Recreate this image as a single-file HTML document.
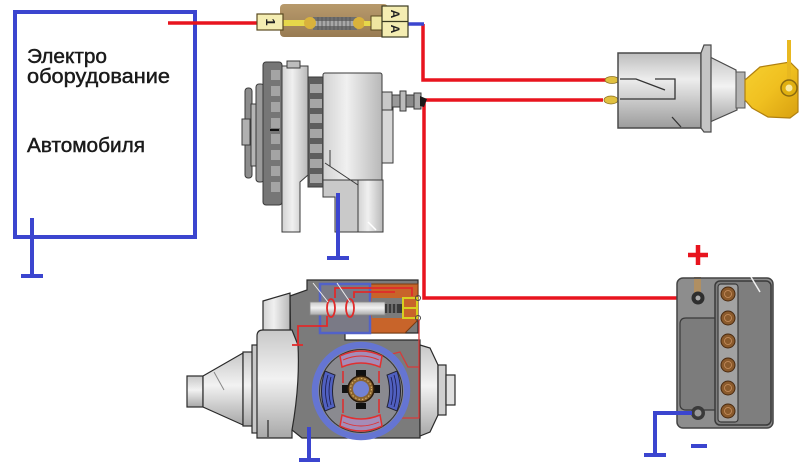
<!DOCTYPE html>
<html><head><meta charset="utf-8"><style>
html,body{margin:0;padding:0;background:#fff;}
svg{display:block;}
</style></head><body>
<svg width="800" height="473" viewBox="0 0 800 473" xmlns="http://www.w3.org/2000/svg">
<defs>
<linearGradient id="hg" x1="0" y1="0" x2="1" y2="0">
<stop offset="0" stop-color="#d2d2d2"/><stop offset="0.4" stop-color="#f0f0f0"/><stop offset="1" stop-color="#b8b8b8"/></linearGradient>
<linearGradient id="vg" x1="0" y1="0" x2="0" y2="1">
<stop offset="0" stop-color="#bdbdbd"/><stop offset="0.35" stop-color="#ededed"/><stop offset="1" stop-color="#9c9c9c"/></linearGradient>
<linearGradient id="vg2" x1="0" y1="0" x2="0" y2="1">
<stop offset="0" stop-color="#c8c8c8"/><stop offset="0.45" stop-color="#f2f2f2"/><stop offset="1" stop-color="#a8a8a8"/></linearGradient>
<linearGradient id="fuseg" x1="0" y1="0" x2="0" y2="1">
<stop offset="0" stop-color="#b89a6c"/><stop offset="0.5" stop-color="#a88b60"/><stop offset="1" stop-color="#987b52"/></linearGradient>
<linearGradient id="keyg" x1="0" y1="0" x2="1" y2="1">
<stop offset="0" stop-color="#f6d030"/><stop offset="0.5" stop-color="#f0c020"/><stop offset="1" stop-color="#d8a010"/></linearGradient>
</defs>

<!-- Equipment box -->
<rect x="15" y="12" width="180" height="225" fill="none" stroke="#3b45cf" stroke-width="4"/>
<line x1="32" y1="218" x2="32" y2="276" stroke="#3b45cf" stroke-width="4"/>
<line x1="21" y1="276" x2="43" y2="276" stroke="#3b45cf" stroke-width="4"/>
<g font-family="'Liberation Sans','DejaVu Sans',sans-serif" font-size="20" fill="#1a1a1a" stroke="#1a1a1a" stroke-width="0.45">
<text x="27" y="63" textLength="80" lengthAdjust="spacingAndGlyphs">Электро</text>
<text x="27" y="83" textLength="143" lengthAdjust="spacingAndGlyphs">оборудование</text>
<text x="27" y="152" textLength="118" lengthAdjust="spacingAndGlyphs">Автомобиля</text>
</g>

<!-- wires -->
<g fill="none" stroke="#e8141e" stroke-width="3.5">
<path d="M168 23 L258 23"/>
<path d="M423 24 L423 80 L606 80"/>
<path d="M424 100 L603 100"/>
<path d="M424 100 L424 298 L693 298"/>
</g>
<line x1="408" y1="24" x2="424" y2="24" stroke="#3b45cf" stroke-width="3.5"/>

<!-- Fuse -->
<rect x="280" y="4" width="108" height="33" rx="4" fill="url(#fuseg)"/>
<rect x="283" y="20" width="24" height="6" fill="#e6d84a"/>
<rect x="313" y="17" width="44" height="13" fill="#6f6f6f"/>
<rect x="315" y="21" width="40" height="5" fill="#a8a8a8"/>
<g stroke="#555" stroke-width="0.8">
<line x1="318" y1="17" x2="318" y2="30"/><line x1="322" y1="17" x2="322" y2="30"/><line x1="326" y1="17" x2="326" y2="30"/><line x1="330" y1="17" x2="330" y2="30"/><line x1="334" y1="17" x2="334" y2="30"/><line x1="338" y1="17" x2="338" y2="30"/><line x1="342" y1="17" x2="342" y2="30"/><line x1="346" y1="17" x2="346" y2="30"/><line x1="350" y1="17" x2="350" y2="30"/>
</g>
<ellipse cx="310" cy="23" rx="6" ry="6" fill="#d9b23c"/>
<ellipse cx="359" cy="23" rx="6" ry="6" fill="#d9b23c"/>
<rect x="364" y="21" width="8" height="5" fill="#e6d84a"/>
<rect x="371" y="16" width="12" height="14" fill="#efe6a0" stroke="#5a4a20" stroke-width="1"/>
<rect x="257" y="14" width="26" height="16" fill="#f4edb2" stroke="#5a4a20" stroke-width="1.2"/>
<text x="270" y="22" font-family="'Liberation Sans',sans-serif" font-size="13" font-weight="bold" fill="#222" text-anchor="middle" transform="rotate(90 270 22)" dy="4">1</text>
<rect x="382" y="6" width="26" height="31" fill="#f4edb2" stroke="#3a3a20" stroke-width="1.2"/>
<line x1="382" y1="21.5" x2="408" y2="21.5" stroke="#3a3a20" stroke-width="1.2"/>
<text x="395" y="14" font-family="'Liberation Sans',sans-serif" font-size="12" font-weight="bold" fill="#222" text-anchor="middle" transform="rotate(90 395 14)" dy="4">A</text>
<text x="395" y="29" font-family="'Liberation Sans',sans-serif" font-size="12" font-weight="bold" fill="#222" text-anchor="middle" transform="rotate(90 395 29)" dy="4">A</text>

<!-- Alternator -->
<g stroke="#3a3a3a" stroke-width="1">
<rect x="245" y="88" width="7" height="90" rx="3" fill="#8c8c8c"/>
<rect x="251" y="104" width="6" height="62" fill="#b5b5b5"/>
<rect x="256" y="84" width="8" height="98" rx="3" fill="#9a9a9a"/>
<rect x="242" y="119" width="8" height="26" fill="#b0b0b0"/>
<rect x="263" y="62" width="19" height="143" rx="3" fill="#767676"/>
<g fill="#a4a4a4" stroke="none">
<rect x="271" y="70" width="9" height="10"/><rect x="271" y="86" width="9" height="10"/><rect x="271" y="102" width="9" height="10"/><rect x="271" y="118" width="9" height="10"/><rect x="271" y="134" width="9" height="10"/><rect x="271" y="150" width="9" height="10"/><rect x="271" y="166" width="9" height="10"/><rect x="271" y="182" width="9" height="10"/>
</g>
<line x1="270" y1="130" x2="279" y2="130" stroke="#111" stroke-width="2"/>
<rect x="308" y="77" width="16" height="110" fill="#5e5e5e"/>
<g fill="#a6a6a6" stroke="none">
<rect x="310" y="84" width="12" height="9"/><rect x="310" y="99" width="12" height="9"/><rect x="310" y="114" width="12" height="9"/><rect x="310" y="129" width="12" height="9"/><rect x="310" y="144" width="12" height="9"/><rect x="310" y="159" width="12" height="9"/><rect x="310" y="174" width="12" height="9"/>
</g>
<path d="M282 66 L308 66 L308 175 L300 182 L300 232 L282 232 Z" fill="url(#hg)"/>
<rect x="287" y="61" width="13" height="7" fill="#bdbdbd"/>
<rect x="323" y="73" width="59" height="124" rx="2" fill="url(#hg)"/>
<path d="M323 180 L358 180 L358 232 L335 232 L335 197 L323 197 Z" fill="#c9c9c9"/>
<rect x="358" y="180" width="25" height="52" fill="url(#hg)"/>
<line x1="325" y1="163" x2="358" y2="185"/>
<line x1="330" y1="150" x2="330" y2="166"/>
<line x1="368" y1="222" x2="376" y2="230" stroke="#fff" stroke-width="1.5"/>
<rect x="382" y="95" width="11" height="68" fill="#d8d8d8"/>
<rect x="382" y="92" width="10" height="18" fill="#c8c8c8"/>
<rect x="392" y="95" width="8" height="12" fill="#9a9a9a"/>
<rect x="400" y="91" width="6" height="20" fill="#bbbbbb"/>
<rect x="406" y="95" width="8" height="12" fill="#8a8a8a"/>
<rect x="414" y="93" width="7" height="16" fill="#aaaaaa"/>
</g>
<path d="M420 96 L427 99 L424 107 L420 106 Z" fill="#1a1a1a"/>
<line x1="338" y1="193" x2="338" y2="258" stroke="#3b45cf" stroke-width="4"/>
<line x1="327" y1="258" x2="349" y2="258" stroke="#3b45cf" stroke-width="4"/>

<!-- Ignition switch -->
<ellipse cx="612" cy="80" rx="7" ry="3.5" fill="#e0c040" stroke="#8a7020" stroke-width="0.8"/>
<ellipse cx="611" cy="100" rx="7" ry="4" fill="#e0c040" stroke="#8a7020" stroke-width="0.8"/>
<rect x="618" y="53" width="83" height="75" fill="url(#vg)" stroke="#4a4a4a" stroke-width="1.5"/>
<g fill="none" stroke="#333" stroke-width="1.3">
<path d="M620 79 L636 79 L665 90"/>
<path d="M655 79 L675 79 L675 99 L620 99"/>
<path d="M672 117 L681 127"/>
</g>
<path d="M710 57 L736 70 L737 110 L710 122 Z" fill="url(#vg2)" stroke="#4a4a4a" stroke-width="1.2"/>
<path d="M701 53 L704 45 L711 45 L711 132 L704 132 L701 128 Z" fill="#c4c4c4" stroke="#4a4a4a" stroke-width="1.2"/>
<rect x="736" y="72" width="9" height="36" fill="#b4b4b4" stroke="#555" stroke-width="1"/>
<path d="M745 80 L760 67 L790 62 L798 70 L798 112 L790 118 L768 117 L752 108 L745 100 Z" fill="url(#keyg)" stroke="#b08010" stroke-width="1.2"/>
<line x1="789" y1="40" x2="789" y2="82" stroke="#e8b820" stroke-width="4"/>
<circle cx="789" cy="88" r="8" fill="#e0b010" stroke="#8a6a10" stroke-width="1.5"/>
<circle cx="789" cy="88" r="3.5" fill="#f8e8a0"/>

<!-- Starter -->
<g stroke="#2a2a2a" stroke-width="1.2">
<path d="M290 296 L307 290 L307 280 L418 280 L418 333 L345 333 L345 340 L420 340 L420 438 L302 438 L292 430 Z" fill="#7b7b7b"/>
<path d="M263 301 L290 293 L290 336 L263 336 Z" fill="url(#hg)"/>
<rect x="187" y="376" width="16" height="31" fill="url(#vg2)"/>
<path d="M203 376 L243 353 L243 425 L203 407 Z" fill="url(#vg2)"/>
<rect x="243" y="352" width="10" height="74" fill="url(#vg2)"/>
<rect x="252" y="345" width="7" height="88" fill="#c8c8c8"/>
<path d="M257 336 Q257 330 263 330 L292 330 L298 345 Q300 385 292 430 L292 438 L257 438 Z" fill="url(#vg2)"/>
<line x1="268" y1="420" x2="268" y2="437"/>
<path d="M420 345 L430 348 L438 365 L438 415 L430 432 L420 436 Z" fill="url(#vg2)"/>
<rect x="438" y="365" width="8" height="50" fill="#cfcfcf"/>
<rect x="446" y="375" width="9" height="30" fill="#e0e0e0"/>
</g>
<line x1="214" y1="372" x2="224" y2="390" stroke="#888" stroke-width="1"/>
<path d="M370 284 L418 284 L418 320 L405 333 L370 333 Z" fill="#c8642a" stroke="#7a3a10" stroke-width="1"/>
<rect x="372" y="298" width="30" height="20" fill="#7b7b7b"/>
<rect x="320" y="284" width="50" height="49" fill="#7a7a86" stroke="#5262c8" stroke-width="2.5"/>
<rect x="310" y="302" width="75" height="13" fill="url(#vg2)" stroke="#888" stroke-width="0.8"/>
<rect x="385" y="304" width="17" height="9" fill="#3a3a3a"/>
<g stroke="#ddd" stroke-width="0.6"><line x1="388" y1="304" x2="388" y2="313"/><line x1="392" y1="304" x2="392" y2="313"/><line x1="396" y1="304" x2="396" y2="313"/></g>
<path d="M403 298 L417 298 L417 318 L403 318 Z M403 308 L417 308" fill="none" stroke="#d8d020" stroke-width="2"/>
<circle cx="418" cy="298" r="2.5" fill="none" stroke="#444" stroke-width="1"/>
<circle cx="418" cy="318" r="2.5" fill="none" stroke="#444" stroke-width="1"/>
<g fill="none" stroke="#e02a2a" stroke-width="1.8">
<ellipse cx="331" cy="308" rx="4" ry="9"/>
<ellipse cx="350" cy="308" rx="4" ry="9"/>
<path d="M335 298 L335 288 L412 288 L412 296"/>
<path d="M354 298 L354 292 L395 292"/>
<path d="M327 316 L327 326 L298 326 L298 345"/>
<path d="M292 345 L303 345"/>
</g>
<g fill="none" stroke="#d83a3a" stroke-width="1.3">
<path d="M419 320 L419 418 L395 418"/>
<path d="M384 356 L400 352 L408 367 L419 367"/>
</g>
<g stroke="#eee" stroke-width="1"><line x1="313" y1="283" x2="328" y2="302"/><line x1="337" y1="283" x2="350" y2="302"/></g>
<!-- motor -->
<circle cx="361" cy="391" r="46" fill="#8a8a90" stroke="#6575d2" stroke-width="6.5"/>
<circle cx="361" cy="391" r="41.5" fill="none" stroke="#333" stroke-width="1"/>
<g fill="#a58cb8" stroke="#e03030" stroke-width="1.5">
<path d="M340 356 Q361 346 382 356 L380 367 Q361 359 342 367 Z"/>
<path d="M340 426 Q361 436 382 426 L380 415 Q361 423 342 415 Z"/>
</g>
<g fill="none" stroke="#e03030" stroke-width="0.9">
<path d="M343 360 Q361 352 379 360"/><path d="M343 422 Q361 430 379 422"/>
</g>
<g fill="#5060c0" stroke="#223" stroke-width="1">
<path d="M325 371 Q318 391 325 411 L335 407 Q330 391 335 375 Z"/>
<path d="M397 371 Q404 391 397 411 L387 407 Q392 391 387 375 Z"/>
</g>
<g fill="none" stroke="#1a1a4a" stroke-width="0.8">
<path d="M328 375 Q323 391 328 407"/><path d="M331 377 Q327 391 331 405"/>
<path d="M394 375 Q399 391 394 407"/><path d="M391 377 Q395 391 391 405"/>
</g>
<g fill="none" stroke="#e02a2a" stroke-width="1.5">
<path d="M343 371 L343 383 M343 399 L343 413 M379 371 L379 383 M379 399 L379 413"/>
</g>
<rect x="356" y="370" width="10" height="6" fill="#111"/>
<rect x="356" y="403" width="10" height="6" fill="#111"/>
<rect x="342" y="385" width="6" height="8" fill="#111"/>
<rect x="374" y="385" width="6" height="8" fill="#111"/>
<circle cx="361" cy="389" r="13" fill="#8a6430" stroke="#2a1a0a" stroke-width="1.5"/>
<circle cx="361" cy="389" r="10.5" fill="none" stroke="#d8b060" stroke-width="1.2" stroke-dasharray="1.5 2"/>
<circle cx="361" cy="389" r="8" fill="#7282d4"/>
<line x1="309" y1="427" x2="309" y2="460" stroke="#3b45cf" stroke-width="4"/>
<line x1="299" y1="460" x2="320" y2="460" stroke="#3b45cf" stroke-width="4"/>

<!-- Battery -->
<rect x="694" y="277" width="7" height="17" fill="#b08f62"/>
<rect x="677" y="278" width="96" height="150" rx="6" fill="#8d8d8d" stroke="#444" stroke-width="1.5"/>
<rect x="694" y="279" width="7" height="14" fill="#b08f62"/>
<path d="M716 318 L686 318 Q680 318 680 324 L680 404 Q680 410 686 410 L716 410" fill="#7c7c7c" stroke="#3a3a3a" stroke-width="1.2"/>
<rect x="715" y="281" width="56" height="144" rx="5" fill="#7e7e7e" stroke="#3a3a3a" stroke-width="1.5"/>
<rect x="718" y="284" width="20" height="138" rx="3" fill="#a2a2a2" stroke="#3a3a3a" stroke-width="1.2"/>
<g fill="#8a5a2c" stroke="#4a2a10" stroke-width="1">
<circle cx="728" cy="294" r="7"/><circle cx="728" cy="318" r="7"/><circle cx="728" cy="341" r="7"/><circle cx="728" cy="365" r="7"/><circle cx="728" cy="388" r="7"/><circle cx="728" cy="411" r="7"/>
</g>
<g fill="none" stroke="#c89060" stroke-width="0.8">
<circle cx="728" cy="294" r="3.5"/><circle cx="728" cy="318" r="3.5"/><circle cx="728" cy="341" r="3.5"/><circle cx="728" cy="365" r="3.5"/><circle cx="728" cy="388" r="3.5"/><circle cx="728" cy="411" r="3.5"/>
</g>
<line x1="751" y1="277" x2="760" y2="292" stroke="#f0f0f0" stroke-width="1.5"/>
<circle cx="698" cy="298" r="6.5" fill="#2e2e2e"/>
<circle cx="698" cy="298" r="2.5" fill="#aaa"/>
<circle cx="698" cy="413" r="7" fill="#3a3a3a"/>
<circle cx="698" cy="413" r="3.5" fill="#999"/>
<line x1="688" y1="255" x2="708" y2="255" stroke="#e8141e" stroke-width="4.5"/>
<line x1="698" y1="245" x2="698" y2="265" stroke="#e8141e" stroke-width="4.5"/>
<line x1="691" y1="446" x2="707" y2="446" stroke="#3b45cf" stroke-width="4"/>
<path d="M692 413 L655 413 L655 455" fill="none" stroke="#3b45cf" stroke-width="4"/>
<line x1="644" y1="455" x2="666" y2="455" stroke="#3b45cf" stroke-width="4"/>
</svg>
</body></html>
